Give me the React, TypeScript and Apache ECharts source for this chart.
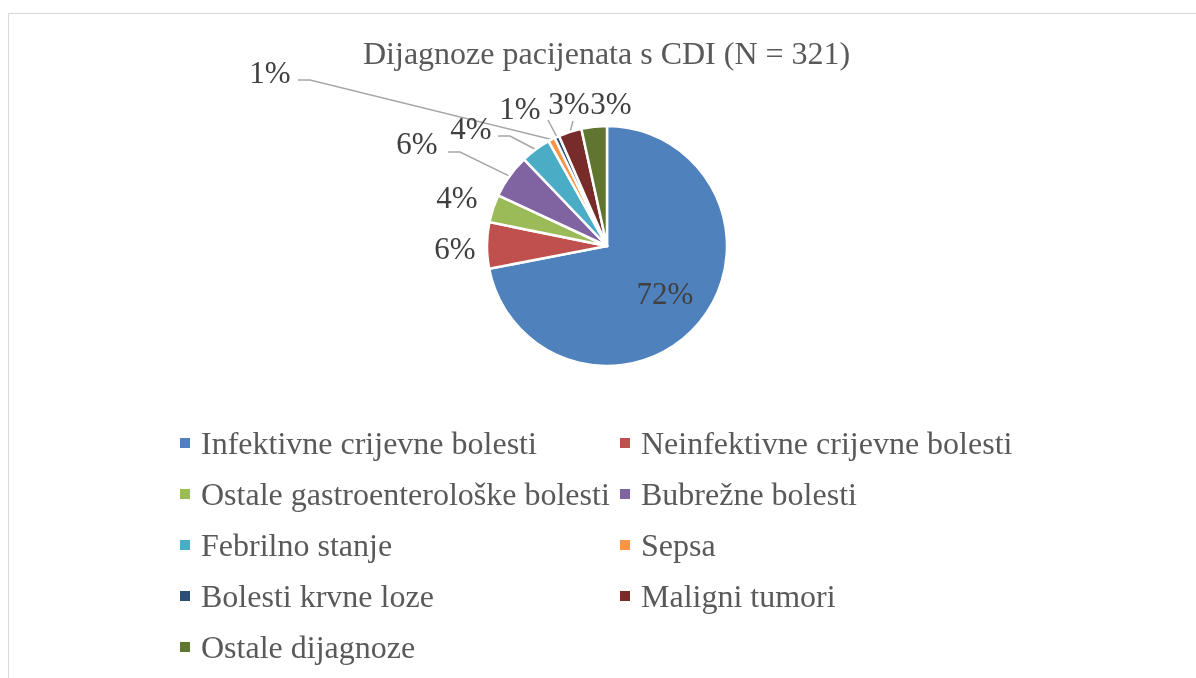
import React, { useEffect, useRef } from "react";
import * as echarts from "echarts";

const TITLE = "Dijagnoze pacijenata s CDI (N = 321)";
const categories = [
  "Infektivne crijevne bolesti",
  "Neinfektivne crijevne bolesti",
  "Ostale gastroenterološke bolesti",
  "Bubrežne bolesti",
  "Febrilno stanje",
  "Sepsa",
  "Bolesti krvne loze",
  "Maligni tumori",
  "Ostale dijagnoze",
];
const counts = [231, 20, 12, 19, 13, 3, 2, 10, 11];
const colors = [
  "#4F81BD",
  "#C0504D",
  "#9BBB59",
  "#8064A2",
  "#4BACC6",
  "#F79646",
  "#2C4D75",
  "#772C2A",
  "#5F7530",
];
const leftLegend = [categories[0], categories[2], categories[4], categories[6], categories[8]];
const rightLegend = [categories[1], categories[3], categories[5], categories[7]];

// label placement (centre of each percentage label), Excel-style
const labelPos: [number, number][] = [
  [665, 293],
  [455, 248],
  [457, 197],
  [417, 143],
  [471, 128],
  [270, 72],
  [520, 108],
  [569, 103],
  [611, 103],
];
// leader-line bends: [labelEnd, elbow] or null
const leaderBends: ([number, number][] | null)[] = [
  null,
  null,
  null,
  [[448, 152], [460, 152]],
  [[498, 136], [510, 136]],
  [[298, 80], [310, 80]],
  [[548, 120], [548, 120]],
  [[573, 121], [573, 121]],
  null,
];

const FONT = "Liberation Serif";

export default function App() {
  const ref = useRef<HTMLDivElement>(null);
  useEffect(() => {
    if (!ref.current) return;
    const chart = echarts.init(ref.current, undefined, { renderer: "svg" });
    const total = counts.reduce((a, b) => a + b, 0);
    const data = categories.map((name, i) => {
      const item: any = { name, value: counts[i], itemStyle: { color: colors[i] } };
      if (i === 0) item.label = { position: "inside" };
      if (!leaderBends[i]) item.labelLine = { show: false };
      return item;
    });
    const legendCommon = {
      orient: "vertical",
      itemWidth: 12,
      itemHeight: 12,
      itemGap: 17,
      height: 400,
      padding: 0,
      icon: "rect",
      textStyle: {
        fontFamily: FONT,
        fontSize: 32,
        color: "#595959",
        lineHeight: 34,
        padding: [0, 0, 0, 5],
      },
    };
    chart.setOption({
      animation: false,
      title: {
        text: TITLE,
        left: 363,
        top: 37,
        padding: 0,
        textStyle: { fontFamily: FONT, fontSize: 32, fontWeight: "normal", color: "#595959" },
      },
      graphic: [
        {
          type: "rect",
          shape: { x: 8.5, y: 13.5, width: 1300, height: 800 },
          style: { fill: "none", stroke: "#d9d9d9", lineWidth: 1 },
          silent: true,
        },
      ],
      legend: [
        { ...legendCommon, left: 178, top: 426, data: leftLegend },
        { ...legendCommon, left: 618, top: 426, data: rightLegend },
      ],
      series: [
        {
          type: "pie",
          center: [607, 246],
          radius: 120,
          startAngle: 90,
          clockwise: true,
          avoidLabelOverlap: false,
          itemStyle: { borderColor: "#ffffff", borderWidth: 2.5 },
          label: {
            show: true,
            position: "outside",
            fontFamily: FONT,
            fontSize: 31,
            color: "#404040",
            formatter: (p: any) => Math.round((p.value / total) * 100) + "%",
          },
          labelLine: {
            show: true,
            length: 10,
            length2: 10,
            lineStyle: { color: "#A6A6A6", width: 1.5 },
          },
          labelLayout: (p: any) => {
            const i = p.dataIndex;
            const pos = labelPos[i];
            const res: any = { x: pos[0], y: pos[1], align: "center", verticalAlign: "middle" };
            const bends = leaderBends[i];
            if (bends && p.labelLinePoints) {
              const start = p.labelLinePoints[0];
              res.labelLinePoints = [start, bends[1], bends[0]];
            }
            return res;
          },
          data,
        },
      ],
    });
    return () => chart.dispose();
  }, []);
  return (
    <div
      ref={ref}
      style={{ position: "fixed", left: 0, top: 0, width: 1196, height: 678 }}
    />
  );
}
